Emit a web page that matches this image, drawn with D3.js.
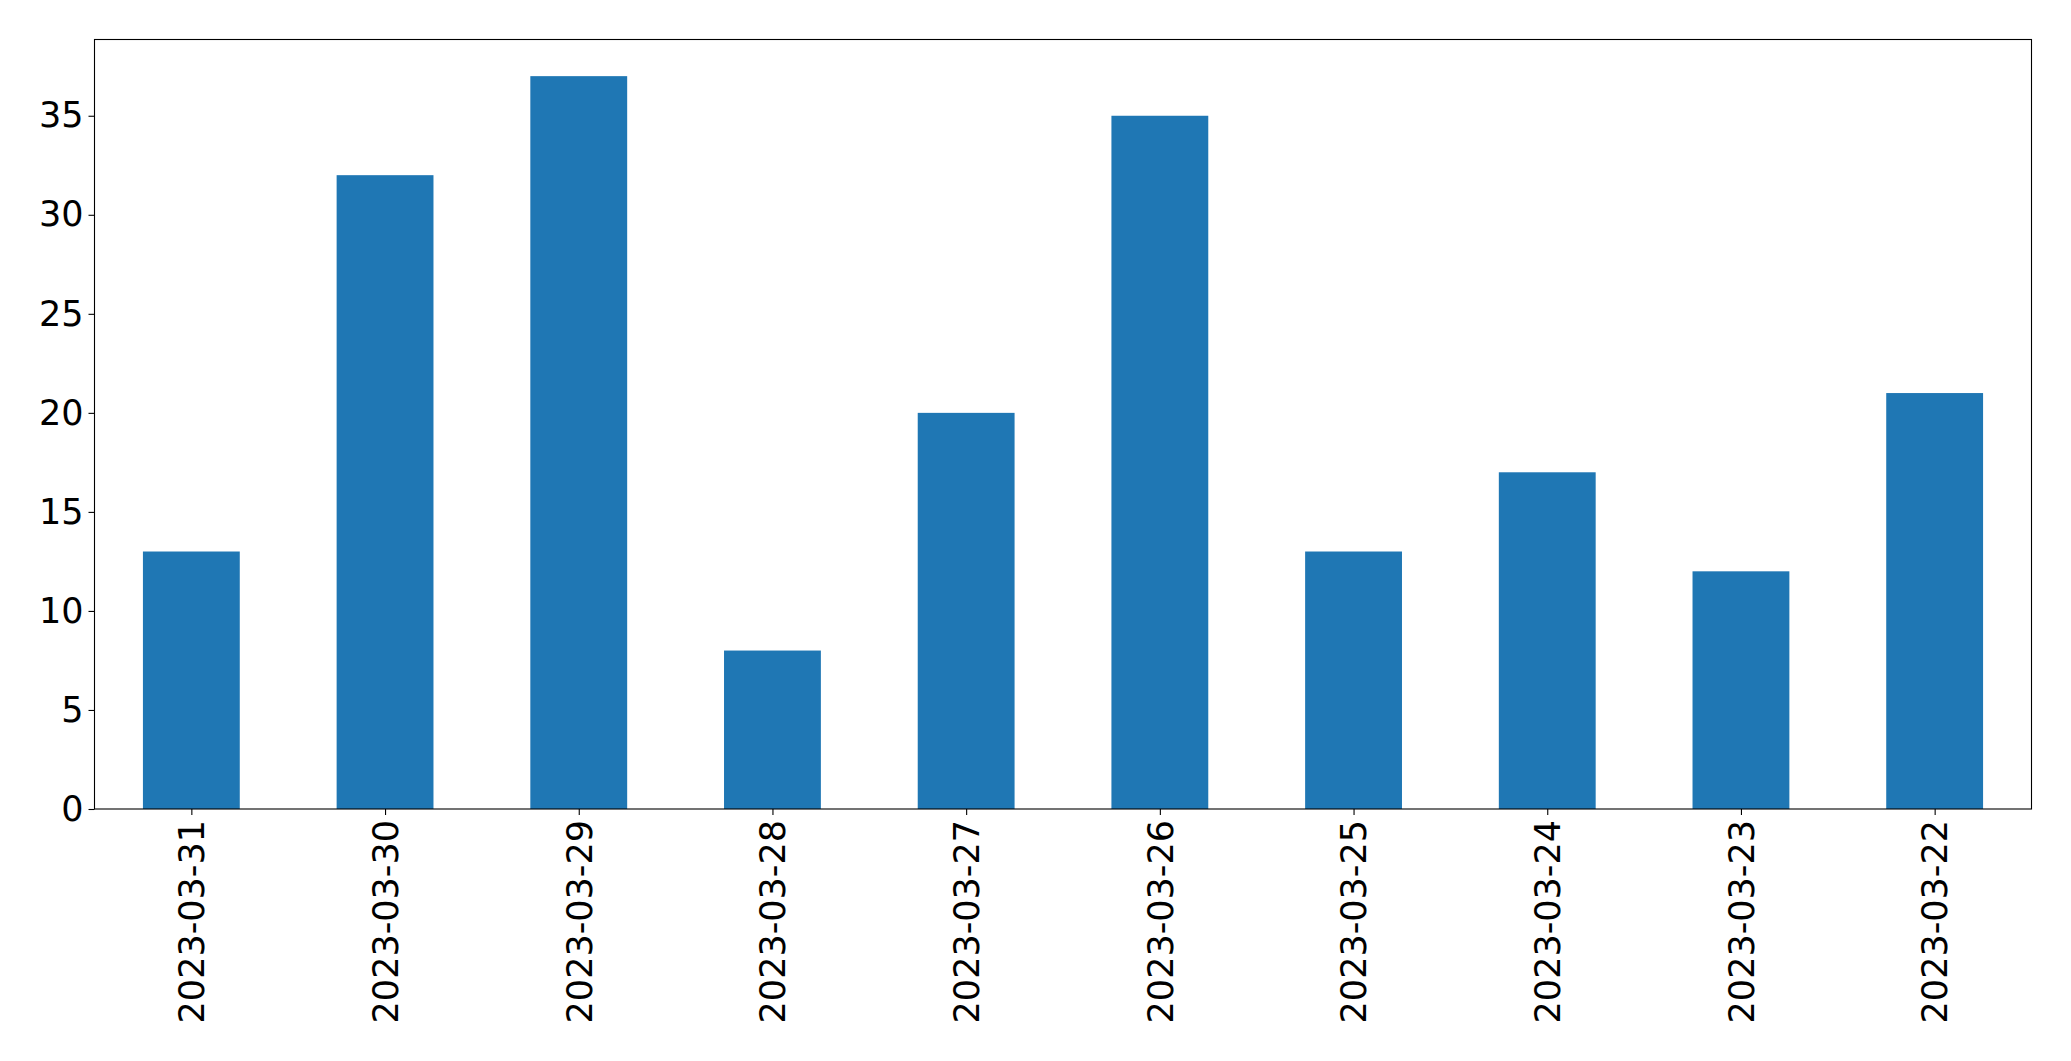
<!DOCTYPE html>
<html><head><meta charset="utf-8">
<script src="https://cdn.jsdelivr.net/npm/d3@7"></script>
<style>html,body{margin:0;padding:0;background:#fff;} svg{display:block;} svg text{font-family:'DejaVu Sans', sans-serif;}</style>
</head><body>
<script>
const categories = ["2023-03-31","2023-03-30","2023-03-29","2023-03-28","2023-03-27","2023-03-26","2023-03-25","2023-03-24","2023-03-23","2023-03-22"];
const values = [13, 32, 37, 8, 20, 35, 13, 17, 12, 21];
const yTicks = [0, 5, 10, 15, 20, 25, 30, 35];

const W = 2071, H = 1061;
const mLeft = 94.5, mRight = 2031.5, mTop = 39.5, mBottom = 809;
const fontSize = 35;

const svg = d3.select("body").append("svg").attr("width", W).attr("height", H);

const x = d3.scaleLinear().domain([-0.5, categories.length - 0.5]).range([mLeft, mRight]);
const y = d3.scaleLinear().domain([0, d3.max(values) * 1.05]).range([mBottom, mTop]);

svg.append("g").selectAll("rect").data(values).join("rect")
  .attr("x", (d, i) => x(i - 0.25))
  .attr("width", (d, i) => x(i + 0.25) - x(i - 0.25))
  .attr("y", d => y(d))
  .attr("height", d => y(0) - y(d))
  .attr("fill", "#1f77b4");

// y axis
const yAxis = svg.append("g").attr("transform", `translate(${mLeft},0)`)
  .call(d3.axisLeft(y).tickValues(yTicks).tickSize(6).tickPadding(5).tickFormat(d3.format("d")));
yAxis.select(".domain").remove();
yAxis.selectAll("text").style("font-size", fontSize + "px").style("font-family", "'DejaVu Sans', sans-serif").attr("fill", "#000");
yAxis.selectAll("line").attr("stroke", "#000").attr("stroke-width", 1.1);

// x axis
const xAxis = svg.append("g").attr("transform", `translate(0,${mBottom})`)
  .call(d3.axisBottom(x).tickValues(d3.range(categories.length)).tickSize(6).tickPadding(5)
    .tickFormat(i => categories[i]));
xAxis.select(".domain").remove();
xAxis.selectAll("line").attr("stroke", "#000").attr("stroke-width", 1.1);
xAxis.selectAll("text")
  .style("font-size", fontSize + "px").style("font-family", "'DejaVu Sans', sans-serif").attr("fill", "#000")
  .attr("text-anchor", "end")
  .attr("dy", "0.35em")
  .attr("transform", "translate(0,11) rotate(-90)")
  .attr("x", 0).attr("y", 0);

// frame
svg.append("rect").attr("x", mLeft).attr("y", mTop)
  .attr("width", mRight - mLeft).attr("height", mBottom - mTop)
  .attr("fill", "none").attr("stroke", "#000").attr("stroke-width", 1.1);
</script>
</body></html>
